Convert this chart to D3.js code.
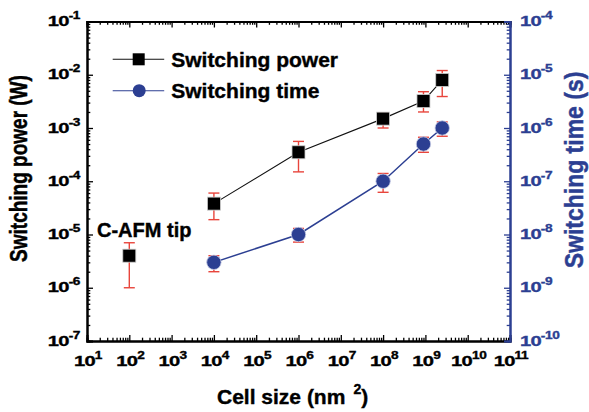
<!DOCTYPE html>
<html>
<head>
<meta charset="utf-8">
<script src="https://cdn.jsdelivr.net/npm/d3@7"></script>
<style>
  body { margin: 0; background: #fff; }
  text { font-family: "Liberation Sans", Arial, sans-serif; font-weight: bold; }
</style>
</head>
<body>
<svg id="chart" width="589" height="412"></svg>
<script>
// data
const powerX = [1e2, 1e4, 1e6, 1e8, 9e8, 2.5e9];
const powerY = [4e-6, 3.8e-5, 3.5e-4, 1.5e-3, 3.2e-3, 8e-3];
const powerLo = [1e-6, 1.9e-5, 1.5e-4, 1.0e-3, 2.0e-3, 3.9e-3];
const powerHi = [7e-6, 6e-5, 5.6e-4, 1.9e-3, 4.8e-3, 1.2e-2];

const timeX = [1e4, 1e6, 1e8, 9e8, 2.5e9];
const timeY = [3e-9, 1e-8, 1e-7, 5e-7, 1e-6];
const timeLo = [2e-9, 7.2e-9, 6.2e-8, 3.5e-7, 7e-7];
const timeHi = [4e-9, 1.3e-8, 1.4e-7, 6.7e-7, 1.3e-6];

const xExp = [1, 2, 3, 4, 5, 6, 7, 8, 9, 10, 11];
const leftExp = [-7, -6, -5, -4, -3, -2, -1];
const rightExp = [-10, -9, -8, -7, -6, -5, -4];

const blue = '#2c3f92';
const red = '#e8453c';

const margin = { top: 21.5, right: 79, bottom: 71, left: 87 };
const width = 589 - margin.left - margin.right;
const height = 412 - margin.top - margin.bottom;

const svg = d3.select('#chart')
  .append('g')
  .attr('transform', `translate(${margin.left},${margin.top})`);

const x = d3.scaleLog().domain([1e1, 1e11]).range([0, width]);
const yL = d3.scaleLog().domain([1e-7, 1e-1]).range([height, 0]);
const yR = d3.scaleLog().domain([1e-10, 1e-4]).range([height, 0]);

function minors(lo, hi) {
  const out = [];
  for (let e = lo; e < hi; e++) for (let m = 2; m <= 9; m++) out.push(m * Math.pow(10, e));
  return out;
}
const majors = exps => exps.map(e => Math.pow(10, e));

function tickAxis(axisFn, scale, lo, hi, exps, size, transform, color) {
  const g1 = svg.append('g').attr('transform', transform)
    .call(axisFn(scale).tickValues(minors(lo, hi)).tickSize(-size * 0.55).tickFormat(''));
  const g2 = svg.append('g').attr('transform', transform)
    .call(axisFn(scale).tickValues(majors(exps)).tickSize(-size).tickFormat(''));
  [g1, g2].forEach(g => {
    g.selectAll('line').attr('stroke', color).attr('stroke-width', 1.3);
    g.select('.domain').attr('stroke', color).attr('stroke-width', 2);
  });
}

tickAxis(d3.axisBottom, x, 1, 11, xExp, 6, `translate(0,${height})`, '#000');
tickAxis(d3.axisTop, x, 1, 11, xExp, 6, 'translate(0,0)', '#000');
tickAxis(d3.axisLeft, yL, -7, -1, leftExp, 6, 'translate(0,0)', '#000');
tickAxis(d3.axisRight, yR, -10, -4, rightExp, 6, `translate(${width},0)`, blue);

// tick labels are drawn wide, like in the original
function powLabel(px, py, e, anchor, color) {
  const t = svg.append('text')
    .attr('transform', `translate(${px},${py}) scale(1.3,1)`)
    .attr('text-anchor', anchor)
    .attr('fill', color)
    .attr('stroke', color).attr('stroke-width', 0.35)
    .attr('font-size', 15.5)
    .attr('letter-spacing', -0.6);
  t.append('tspan').text('10');
  t.append('tspan').attr('dy', -7).attr('font-size', 10.5).attr('letter-spacing', -0.3).text(e);
}

xExp.forEach(e => powLabel(x(Math.pow(10, e)) + 1, height + 24.5, e, 'middle', '#000'));
leftExp.forEach(e => powLabel(-7, yL(Math.pow(10, e)) + 4.5, e, 'end', '#000'));
rightExp.forEach(e => powLabel(width + 10, yR(Math.pow(10, e)) + 4.5, e, 'start', blue));

// axis titles
svg.append('text')
  .attr('x', 217 - margin.left)
  .attr('y', height + 63)
  .attr('font-size', 21)
  .attr('stroke', '#000').attr('stroke-width', 0.4)
  .call(t => {
    t.append('tspan').text('Cell size (nm');
    t.append('tspan').attr('dx', 8).attr('dy', -10).attr('font-size', 14).text('2');
    t.append('tspan').attr('dy', 10).text(')');
  });

svg.append('text')
  .attr('transform', `translate(-60,${168.5 - margin.top}) rotate(-90) scale(1,1.25)`)
  .attr('text-anchor', 'middle')
  .attr('font-size', 19)
  .attr('stroke', '#000').attr('stroke-width', 0.4)
  .text('Switching power (W)');

svg.append('text')
  .attr('transform', `translate(${583 - margin.left},${170 - margin.top}) rotate(-90) scale(1,1.1)`)
  .attr('text-anchor', 'middle')
  .attr('fill', blue)
  .attr('stroke', blue).attr('stroke-width', 0.4)
  .attr('font-size', 23)
  .text('Switching time (s)');

// lines
const powerPts = powerX.map((d, i) => [x(d), yL(powerY[i])]);
const timePts = timeX.map((d, i) => [x(d), yR(timeY[i])]);

svg.append('path')
  .attr('d', d3.line()(powerPts.slice(1)))
  .attr('fill', 'none').attr('stroke', '#111').attr('stroke-width', 1.1);
svg.append('path')
  .attr('d', d3.line()(timePts))
  .attr('fill', 'none').attr('stroke', blue).attr('stroke-width', 1.5);

// error bars
function errBars(xs, lo, hi, scale) {
  xs.forEach((d, i) => {
    const cx = x(d), y0 = scale(lo[i]), y1 = scale(hi[i]);
    const g = svg.append('g').attr('stroke', red).attr('stroke-width', 1.4);
    g.append('line').attr('x1', cx).attr('x2', cx).attr('y1', y0).attr('y2', y1);
    g.append('line').attr('x1', cx - 5.5).attr('x2', cx + 5.5).attr('y1', y0).attr('y2', y0);
    g.append('line').attr('x1', cx - 5.5).attr('x2', cx + 5.5).attr('y1', y1).attr('y2', y1);
  });
}
errBars(powerX, powerLo, powerHi, yL);
errBars(timeX, timeLo, timeHi, yR);

// markers
svg.selectAll('rect.pw')
  .data(powerPts)
  .enter()
  .append('rect')
  .attr('x', d => d[0] - 6.5)
  .attr('y', d => d[1] - 6.5)
  .attr('width', 13).attr('height', 13)
  .attr('fill', '#000').attr('stroke', '#ccc').attr('stroke-width', 0.8);

svg.selectAll('circle.tm')
  .data(timePts)
  .enter()
  .append('circle')
  .attr('cx', d => d[0]).attr('cy', d => d[1]).attr('r', 7.2)
  .attr('fill', blue).attr('stroke', '#c4cae4').attr('stroke-width', 0.8);

// C-AFM tip label
svg.append('text')
  .attr('x', 97 - margin.left)
  .attr('y', 237 - margin.top)
  .attr('font-size', 20)
  .attr('stroke', '#000').attr('stroke-width', 0.4)
  .text('C-AFM tip');

// legend
const legend = [
  { name: 'Switching power', color: '#111', shape: 'rect', y: 59.3 },
  { name: 'Switching time', color: blue, shape: 'circle', y: 90.7 }
];
legend.forEach(l => {
  const g = svg.append('g').attr('transform', `translate(${112.7 - margin.left},${l.y - margin.top})`);
  g.append('line').attr('x1', 0).attr('x2', 51.5).attr('stroke', l.color).attr('stroke-width', 1.1);
  if (l.shape === 'rect') {
    g.append('rect').attr('x', 20).attr('y', -6).attr('width', 12).attr('height', 12).attr('fill', '#000');
  } else {
    g.append('circle').attr('cx', 26.5).attr('r', 6.5).attr('fill', blue);
  }
  g.append('text').attr('x', 58.5).attr('y', 7.5).attr('font-size', 21)
    .attr('stroke', '#000').attr('stroke-width', 0.4).text(l.name);
});
</script>
</body>
</html>
